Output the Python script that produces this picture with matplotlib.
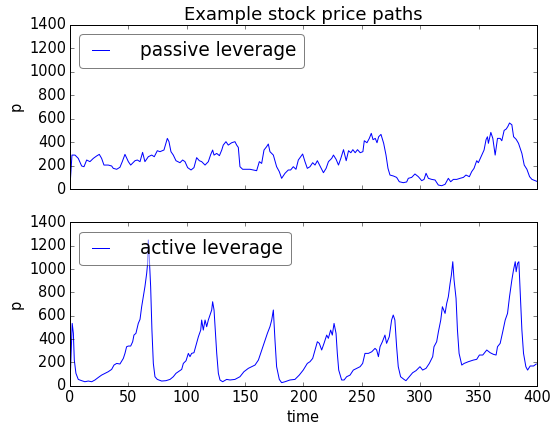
import matplotlib
matplotlib.use('Agg')
import matplotlib.pyplot as plt

# values
passive_t = [0, 1.7, 4.3, 7.1, 10, 12, 14.3, 17.1, 20, 22.8,
             25.1, 27.1, 29.1, 32.8, 35.7, 37.1, 40, 42.8, 44.8, 47.1,
             50, 52, 55.7, 57.7, 60, 62.2, 64.2, 67.1, 70, 72.2,
             74.8, 77.1, 80.5, 82.2, 83.4, 84.8, 86.5, 88.5, 90.8, 94.2,
             96.5, 98.5, 100.8, 103.7, 106.2, 108.5, 110.8, 112.8, 115.7, 118.5,
             120.5, 122.2, 123.4, 125.7, 128, 130, 131.3, 133.6, 135.6, 138.5,
             141.3, 142.8, 144.2, 145.6, 147.9, 150.7, 154.2, 157, 159.9, 162.2,
             164.2, 166.2, 168.4, 169.9, 171.3, 174.2, 177, 179.3, 181.3, 184.2,
             187, 189, 191.3, 193.6, 195.6, 197.6, 199.3, 201.3, 203.3, 205.6,
             207.9, 209.9, 211.9, 214.2, 217.1, 219.4, 221.4, 224.2, 225.7, 228,
             230, 232, 234.3, 236.6, 238.6, 240.6, 242.3, 244.3, 246.3, 248.6,
             250.9, 252.1, 254.4, 256.4, 258.1, 259.6, 261.5, 263, 264.4, 266.4,
             268.7, 270.7, 272.4, 274.1, 277, 279.8, 282.1, 285.5, 288.4, 289.8,
             292.7, 295.5, 298.4, 301.3, 303.3, 305, 307, 309.8, 312.7, 315.5,
             318.4, 321.3, 324.1, 326.1, 328.4, 331.3, 334.1, 337, 339.2, 342.1,
             344.1, 346.1, 348.4, 349.8, 352.7, 354.7, 356.4, 357.6, 358.4, 360.5,
             362.2, 364.2, 366.2, 368.5, 369.9, 371.9, 373.7, 375.1, 376.5, 378.5,
             380, 382.2, 384.2, 387.1, 389.1, 391.4, 393.7, 395.7, 398.5, 400]
passive_p = [20, 289, 289, 261, 196, 190, 247, 233, 261, 281,
             295, 261, 204, 204, 196, 176, 168, 185, 233, 295,
             233, 204, 241, 247, 233, 312, 233, 275, 289, 275,
             326, 318, 332, 389, 431, 403, 318, 289, 241, 224,
             247, 233, 182, 162, 182, 267, 241, 233, 204, 233,
             292, 332, 289, 303, 284, 332, 374, 403, 374, 394,
             403, 374, 354, 190, 168, 168, 168, 162, 156, 233,
             218, 332, 360, 383, 318, 289, 190, 148, 91, 134,
             162, 162, 190, 168, 247, 275, 298, 233, 176, 190,
             224, 204, 241, 196, 139, 176, 233, 261, 289, 252,
             204, 261, 335, 241, 326, 309, 335, 309, 335, 309,
             318, 411, 394, 431, 474, 420, 431, 394, 445, 465,
             389, 289, 176, 119, 111, 99, 62, 54, 60, 91,
             99, 128, 105, 71, 82, 134, 91, 82, 77, 34,
             28, 40, 91, 62, 82, 82, 91, 99, 119, 105,
             148, 176, 241, 224, 289, 332, 420, 445, 389, 482,
             431, 289, 431, 431, 411, 499, 511, 533, 562, 547,
             445, 423, 389, 303, 204, 168, 105, 82, 71, 65]

active_t = [0, 1.9, 2.9, 3.7, 5.1, 7.1, 10, 12.8, 15.7, 18.6,
            21.4, 24.3, 27.1, 30, 32.8, 35.7, 37.7, 40, 42.8, 45.7,
            47.1, 48.5, 50, 52, 53.7, 54.8, 56.5, 58.5, 60, 61.4,
            62.8, 64.2, 65.7, 66.5, 67.1, 67.9, 69.1, 70.2, 71.4, 72.8,
            74.8, 78.5, 82.2, 85.7, 88.5, 90.8, 92.8, 95.7, 97.1, 99.4,
            101.4, 102.8, 104.2, 106.2, 108, 110, 112, 112.8, 114.2, 115.7,
            117.1, 118.5, 120, 121.4, 122.2, 123.4, 124.5, 125.7, 127.1, 128.5,
            130.8, 134.2, 137.1, 141.3, 145.6, 149, 152.8, 155.6, 158.5, 161.4,
            163.3, 165.1, 167.1, 169.1, 171.3, 172.8, 174.2, 175.6, 177, 179.3,
            181.3, 184.2, 188.4, 192.7, 196.4, 199.8, 203.3, 205.6, 207.9, 209.9,
            211.9, 213.6, 215.6, 217.6, 219.9, 221.3, 223.3, 224.7, 226.2, 227.9,
            229, 230.2, 232.7, 234.8, 237, 239.9, 242.7, 245.6, 248.5, 250.7,
            252.7, 255.6, 258.5, 261.3, 262.7, 264.2, 265.6, 267.6, 269.8, 271.2,
            273.5, 275.5, 276.9, 278.3, 279.8, 281.2, 283.2, 286.1, 287.8, 290.7,
            293.5, 296.4, 299.8, 302.1, 305, 307.8, 310.7, 311.8, 314.1, 315.6,
            317.6, 319, 321.3, 322.7, 324.1, 325.6, 326.7, 327.9, 329, 330.7,
            331.9, 333.3, 335.6, 337.6, 341.3, 345.6, 348.4, 350.7, 353.6, 357,
            359.9, 362.7, 365, 366.2, 368.5, 370.7, 372.8, 374.8, 376.5, 378.5,
            379.9, 381.4, 382.2, 383.4, 384.5, 385.7, 387.1, 388.5, 390.5, 392,
            394.2, 397.1, 399.4]
active_p = [0, 534, 449, 220, 106, 54, 43, 34, 40, 34,
            49, 71, 91, 106, 120, 140, 177, 191, 186, 234,
            277, 334, 340, 340, 377, 434, 449, 534, 569, 677,
            763, 849, 963, 1049, 1249, 1106, 849, 477, 191, 77,
            54, 40, 43, 54, 77, 106, 120, 140, 191, 214,
            277, 249, 277, 283, 349, 420, 477, 563, 477, 563,
            506, 563, 606, 649, 720, 649, 477, 277, 106, 49,
            34, 54, 49, 54, 77, 120, 149, 163, 177, 220,
            277, 334, 391, 449, 506, 563, 649, 391, 163, 54,
            26, 34, 49, 54, 91, 134, 191, 206, 234, 306,
            377, 363, 306, 363, 434, 406, 477, 434, 534, 449,
            277, 134, 49, 49, 77, 91, 134, 149, 163, 191,
            277, 277, 291, 320, 306, 249, 334, 377, 434, 363,
            420, 563, 606, 563, 334, 163, 77, 54, 43, 77,
            111, 129, 163, 134, 149, 191, 249, 334, 377, 463,
            563, 677, 620, 706, 763, 877, 949, 1063, 906, 749,
            477, 277, 177, 191, 206, 220, 226, 263, 263, 306,
            283, 269, 263, 334, 363, 463, 563, 620, 763, 906,
            991, 1063, 977, 1049, 1063, 791, 477, 277, 163, 134,
            169, 169, 186]

plt.style.use('classic')
plt.rcParams['figure.facecolor'] = 'white'
plt.rcParams['savefig.facecolor'] = 'white'
plt.rcParams['font.size'] = 14.5

fig = plt.figure(figsize=(551/72, 426/72), dpi=72)
ax1 = fig.add_axes([0.127, 0.5563, 0.8475, 0.386])
ax2 = fig.add_axes([0.127, 0.0946, 0.8475, 0.3833])

ax1.plot(passive_t, passive_p, color='b', lw=1.0, label='passive leverage')
ax2.plot(active_t, active_p, color='b', lw=1.0, label='active leverage')

for ax in (ax1, ax2):
    ax.set_xlim(0, 400)
    ax.set_ylim(0, 1400)
    ax.set_xticks(range(0, 401, 50))
    ax.set_yticks(range(0, 1401, 200))
    ax.tick_params(labelsize=14.5)
    ax.set_ylabel('p', fontsize=14.5)
    # half transparent frame: the line shows through, the edge looks grey
    ax.legend(loc='upper left', fontsize=18.5, fancybox=True, framealpha=0.5,
              handlelength=1.5, handletextpad=1.4, borderpad=0.4)
ax1.tick_params(labelbottom=False)
ax1.set_title('Example stock price paths', fontsize=18)
ax2.set_xlabel('time', fontsize=14.5)

fig.savefig('out.png', dpi=72)
